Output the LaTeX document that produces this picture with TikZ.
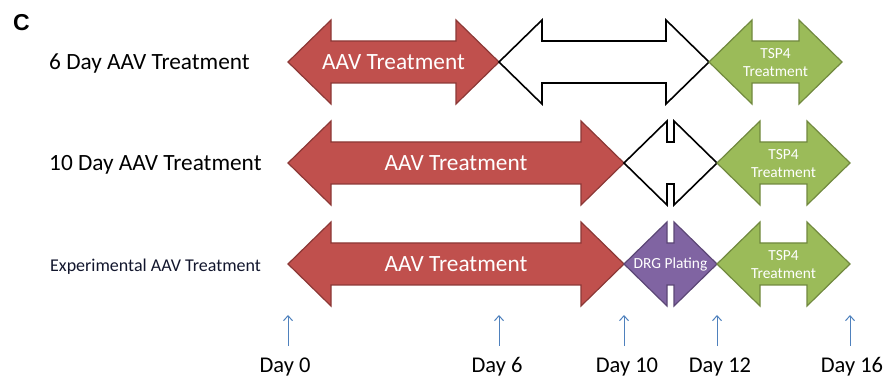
\documentclass[tikz,border=0pt]{standalone}
\usepackage{fontspec}
\usetikzlibrary{arrows.meta}
\setmainfont{Carlito}
\newfontfamily\arialfont{Liberation Sans}
\definecolor{aavred}{HTML}{C0504D}
\definecolor{aavredd}{HTML}{8C3836}
\definecolor{tspgreen}{HTML}{9BBB59}
\definecolor{tspgreend}{HTML}{71893F}
\definecolor{drgpurple}{HTML}{8064A2}
\definecolor{drgpurpled}{HTML}{5C4776}
\definecolor{tickblue}{HTML}{4F81BD}
\definecolor{expnavy}{RGB}{18,22,45}
\tikzset{
  aav/.style={fill=aavred,draw=aavredd,line width=1.2pt},
  gapbox/.style={fill=white,draw=black,line width=1.6pt},
  tsp/.style={fill=tspgreen,draw=tspgreend,line width=1.2pt},
  drg/.style={fill=drgpurple,draw=drgpurpled,line width=1.2pt},
  big/.style={font=\fontsize{23.3}{28}\selectfont,inner sep=0pt},
  daytxt/.style={font=\fontsize{22.5}{27}\selectfont,inner sep=0pt},
  intxt/.style={big,text=white},
  smalltxt/.style={font=\fontsize{15.4}{18}\selectfont,inner sep=0pt,text=white,align=center},
  tick/.style={-{Straight Barb[length=5pt,width=9pt]},tickblue,line width=1pt}
}
\begin{document}
\begin{tikzpicture}[line join=miter,x=1pt,y=-1pt]
\useasboundingbox (0,0) rectangle (886,379);
\def\hl{43}
\def\hw{42}
\def\bw{21}
% double arrow: style, left tip, right tip, row
\def\dblarrow#1#2#3#4{\draw[#1] (#2,#4) -- ({#2+\hl},{#4-\hw}) -- ({#2+\hl},{#4-\bw}) -- ({#3-\hl},{#4-\bw}) -- ({#3-\hl},{#4-\hw}) -- (#3,#4) -- ({#3-\hl},{#4+\hw}) -- ({#3-\hl},{#4+\bw}) -- ({#2+\hl},{#4+\bw}) -- ({#2+\hl},{#4+\hw}) -- cycle;}
\node[anchor=base,inner sep=0pt] (panel) at (21.5,30.5) {\arialfont\bfseries\fontsize{23}{26}\selectfont C};
%% row labels
\node[big,anchor=base west] (row1) at (49,70) {6 Day AAV Treatment};
\node[big,anchor=base west] (row2) at (49,171) {10 Day AAV Treatment};
\node[anchor=base west,inner sep=0pt,text=expnavy,font=\fontsize{18}{21}\selectfont] (row3) at (50,272) {Experimental AAV Treatment};
%% row 1
\dblarrow{aav}{288}{499}{62}
\dblarrow{gapbox}{499}{709}{62}
\dblarrow{tsp}{709}{842}{62}
\node[intxt,anchor=base] (aav1) at (393.5,70) {AAV Treatment};
\node[smalltxt] (tsp1) at (775.5,63) {TSP4\\Treatment};
%% row 2
\dblarrow{aav}{288}{624}{163}
\dblarrow{gapbox}{624}{717}{163}
\dblarrow{tsp}{717}{850}{163}
\node[intxt,anchor=base] (aav2) at (456,171) {AAV Treatment};
\node[smalltxt] (tsp2) at (783.5,164) {TSP4\\Treatment};
%% row 3
\dblarrow{aav}{288}{624}{264}
\dblarrow{drg}{624}{717}{264}
\dblarrow{tsp}{717}{850}{264}
\node[intxt,anchor=base] (aav3) at (456,272) {AAV Treatment};
\node[anchor=base,inner sep=0pt,text=white,font=\fontsize{15.4}{18}\selectfont] (drg3) at (670.5,269) {DRG Plating};
\node[smalltxt] (tsp3) at (783.5,265) {TSP4\\Treatment};
%% days
\foreach \d/\xt/\xa in {0/285/288, 6/497/499, 10/627/624, 12/720/717, 16/852/850}{
  \node[daytxt,anchor=base] (day\d) at (\xt,372) {Day \d};
  \coordinate (t\d) at (\xa,315);
  \draw[tick] (t\d |- day\d.north) ++(0,-11) -- (t\d);
}
\end{tikzpicture}
\end{document}
